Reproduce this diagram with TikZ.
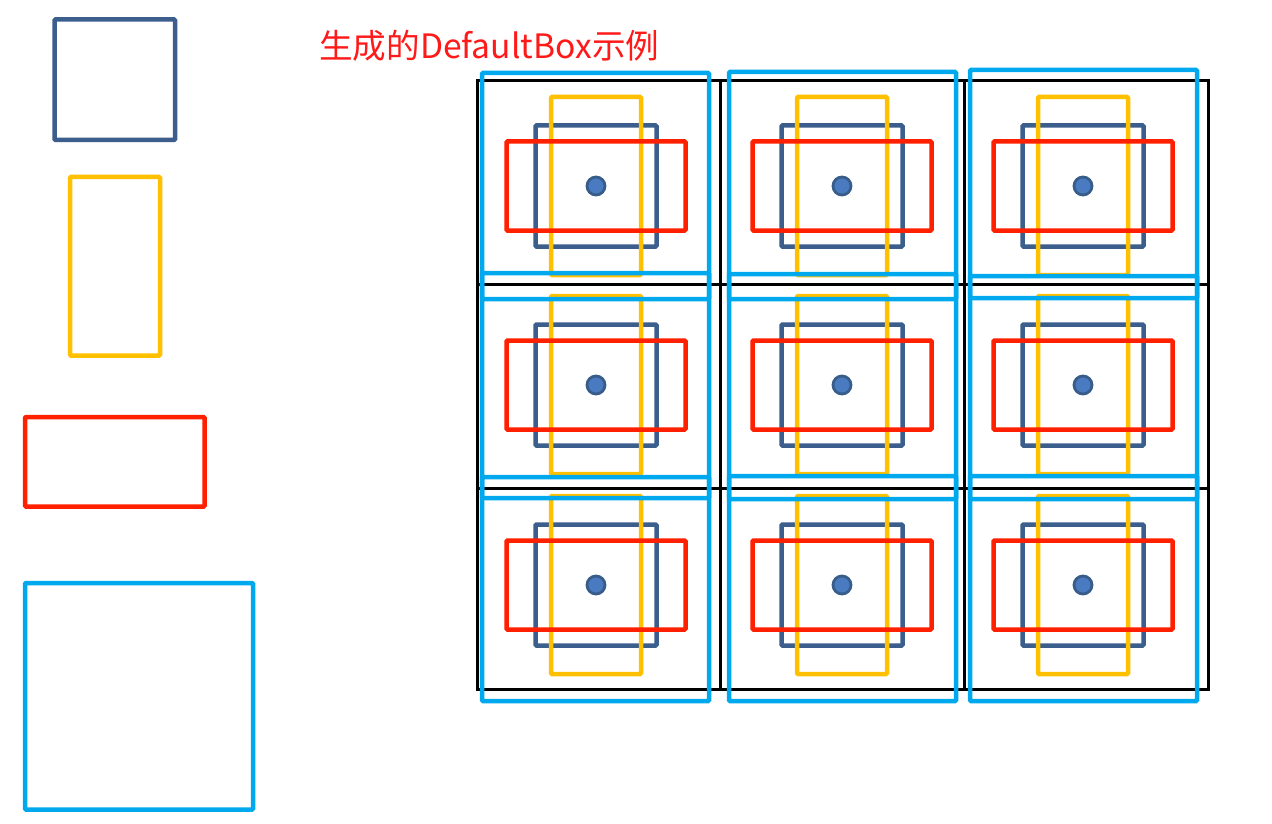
\documentclass[tikz,border=0pt]{standalone}
\usepackage{fontspec}
\newfontfamily\cjk{Noto Sans CJK SC}
\definecolor{dkblue}{HTML}{3B5E8C}
\definecolor{gold}{HTML}{FFC000}
\definecolor{redbox}{HTML}{FF2000}
\definecolor{cyanbox}{HTML}{00A9EE}
\definecolor{dotfill}{HTML}{4A7AC0}
\definecolor{dotline}{HTML}{385D8A}
\definecolor{titlered}{HTML}{FF1A1A}
\begin{document}
\begin{tikzpicture}[x=1pt,y=-1pt,
  box/.style={line width=4.5pt, rounded corners=1pt},
  gridline/.style={line width=3pt, black},
  anchordot/.style={circle, fill=dotfill, draw=dotline, line width=2.8pt, minimum size=18pt, inner sep=0pt},
  titletext/.style={anchor=west, inner sep=0pt, text=titlered, font=\cjk\fontsize{33.6}{40}\selectfont}]
\useasboundingbox (0,0) rectangle (1272,824);
\fill[white] (0,0) rectangle (1272,824);

% legend boxes
\draw[box,dkblue] (54.5,19.5) rectangle (175,140);
\draw[box,gold] (70,177) rectangle (160,355.5);
\draw[box,redbox] (25,417) rectangle (204.5,506.5);
\draw[box,cyanbox] (25,583) rectangle (253,809.5);

% title
\node[titletext] (title) at (319,46) {生成的DefaultBox示例};

% grid
\draw[gridline] (477,81) rectangle (1208,689);
\draw[gridline] (720,81) -- (720,689);
\draw[gridline] (964,81) -- (964,689);
\draw[gridline] (477,284) -- (1208,284);
\draw[gridline] (477,488) -- (1208,488);

% default boxes per cell
\foreach \cx/\i in {596/0, 842/1, 1083/2}{
  \foreach \cy/\j in {186/0, 385/1, 585/2}{
    \draw[box,dkblue] (\cx-60.5,\cy-60.5) rectangle (\cx+60.5,\cy+60.5);
    \draw[box,gold] (\cx-45,\cy-89) rectangle (\cx+45,\cy+89);
    \draw[box,redbox] (\cx-89.5,\cy-44.5) rectangle (\cx+89.5,\cy+44.5);
    \node[anchordot] (dot-\i-\j) at (\cx,\cy) {};
  }
}

% large default boxes
\foreach \xa/\xb/\ya/\yb/\yc/\yd/\ye/\yf in {482/709/73/299/273/498/477/701, 729/956/72/299/274/499/476/701, 970/1197/70/298/276/499/476/701}{
  \draw[box,cyanbox] (\xa,\ya) rectangle (\xb,\yb);
  \draw[box,cyanbox] (\xa,\yc) rectangle (\xb,\yd);
  \draw[box,cyanbox] (\xa,\ye) rectangle (\xb,\yf);
}
\end{tikzpicture}
\end{document}
